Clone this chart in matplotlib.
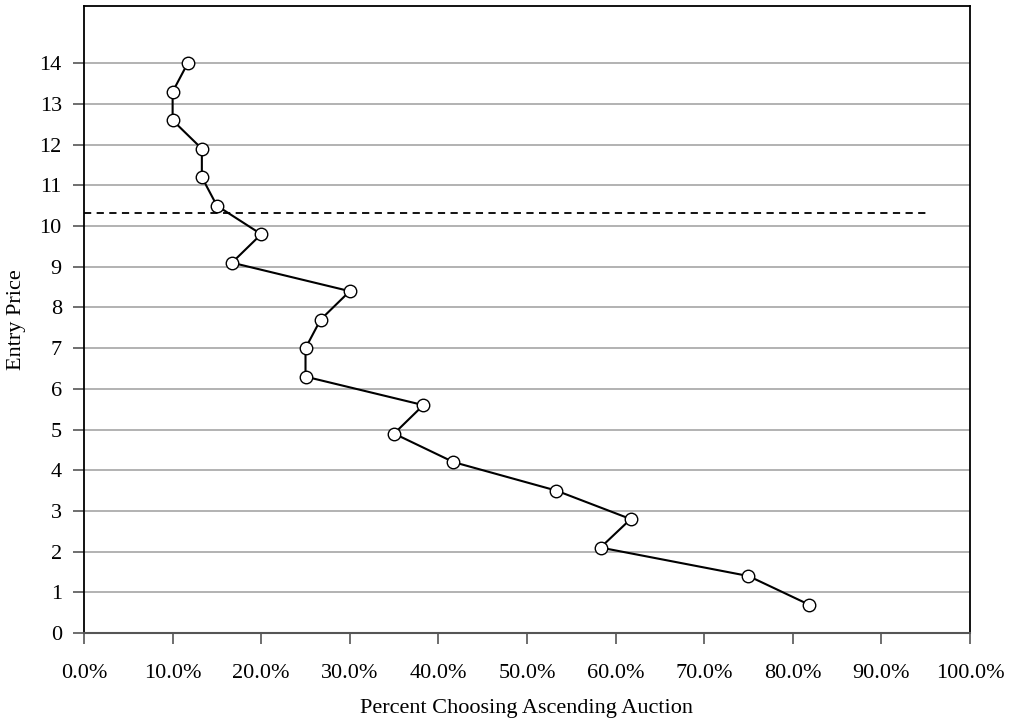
import matplotlib.pyplot as plt
from matplotlib.ticker import FuncFormatter

# entry price levels and share choosing the ascending auction (%)
entry_price = [0.7, 1.4, 2.1, 2.8, 3.5, 4.2, 4.9, 5.6, 6.3, 7.0,
               7.7, 8.4, 9.1, 9.8, 10.5, 11.2, 11.9, 12.6, 13.3, 14.0]
pct_ascending = [81.8, 75.0, 58.3, 61.7, 53.3, 41.7, 35.0, 38.3, 25.0, 25.0,
                 26.7, 30.0, 16.7, 20.0, 15.0, 13.3, 13.3, 10.0, 10.0, 11.7]
threshold = 10.33
threshold_span = [0.0, 95.0]

plt.rcParams['font.family'] = ['Liberation Serif', 'DejaVu Serif']

fig = plt.figure(figsize=(10.16, 7.27), dpi=100)
ax = fig.add_axes([0.0827, 0.1293, 0.872, 0.862])

ax.plot(pct_ascending, entry_price, color='black', lw=1.5, marker='o',
        markersize=9, markerfacecolor='white', markeredgecolor='black',
        markeredgewidth=1.0, zorder=3)
ax.plot(threshold_span, [threshold, threshold], color='black', lw=1.3,
        linestyle=(0, (4, 3)), zorder=2)

ax.set_xlim(0, 100)
ax.set_ylim(0, 15.4)
ax.set_xticks(range(0, 101, 10))
ax.set_yticks(range(0, 15))
ax.xaxis.set_major_formatter(FuncFormatter(lambda v, p: f'{v:.1f}%'))
ax.yaxis.grid(True, color='#a6a6a6', lw=1.2)
ax.set_axisbelow(True)

ax.tick_params(axis='both', direction='out', length=8, width=1.2,
               color='#555555', labelsize=16)
ax.tick_params(axis='x', pad=14)
ax.tick_params(axis='y', pad=8)
for side in ['top', 'right', 'left']:
    ax.spines[side].set_linewidth(1.3)
    ax.spines[side].set_color('black')
ax.spines['bottom'].set_linewidth(1.5)
ax.spines['bottom'].set_color('#555555')

ax.set_xlabel('Percent Choosing Ascending Auction', fontsize=16, labelpad=12)
ax.set_ylabel('Entry Price', fontsize=16, labelpad=10)

fig.savefig('out.png', dpi=100)
